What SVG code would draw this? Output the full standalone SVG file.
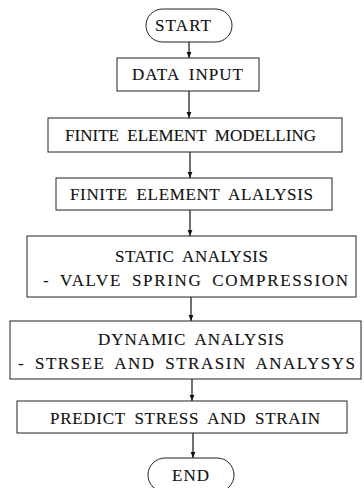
<svg xmlns="http://www.w3.org/2000/svg" width="364" height="488" viewBox="0 0 364 488">
  <defs>
    <marker id="arrow" viewBox="0 0 10 10" refX="10" refY="5" markerWidth="6" markerHeight="6" orient="auto" markerUnits="userSpaceOnUse">
      <path d="M0,1 L10,5 L0,9 Z" fill="#111"/>
    </marker>
  </defs>
  <style>
    .box { fill: #fff; stroke: #222; stroke-width: 1; }
    .lbl { font-family: "Liberation Serif", "Times New Roman", serif; font-size: 17px; fill: #111; stroke: #111; stroke-width: 0.12; word-spacing: 4px; }
    .edge { stroke: #111; stroke-width: 1.2; fill: none; marker-end: url(#arrow); }
  </style>
  <rect width="364" height="488" fill="#fff"/>

  <g id="connectors">
    <line class="edge" x1="189" y1="42" x2="189" y2="58"/>
    <line class="edge" x1="189" y1="91" x2="189" y2="118"/>
    <line class="edge" x1="190" y1="152" x2="190" y2="178"/>
    <line class="edge" x1="190" y1="210" x2="190" y2="236"/>
    <line class="edge" x1="191" y1="297" x2="191" y2="321"/>
    <line class="edge" x1="192" y1="379" x2="192" y2="401"/>
    <line class="edge" x1="193" y1="433" x2="193" y2="458"/>
  </g>

  <g id="start">
    <rect class="box" x="146" y="9" width="86" height="33" rx="16.5"/>
    <text class="lbl" x="155" y="31" textLength="56" lengthAdjust="spacing">START</text>
  </g>

  <g id="data-input">
    <rect class="box" x="117" y="58" width="142" height="33"/>
    <text class="lbl" x="132" y="80" textLength="111" lengthAdjust="spacing">DATA INPUT</text>
  </g>

  <g id="fe-modelling">
    <rect class="box" x="48" y="118" width="294" height="34"/>
    <text class="lbl" x="65" y="141" textLength="251" lengthAdjust="spacing">FINITE ELEMENT MODELLING</text>
  </g>

  <g id="fe-analysis">
    <rect class="box" x="56" y="178" width="276" height="32"/>
    <text class="lbl" x="70" y="200" textLength="243" lengthAdjust="spacing">FINITE ELEMENT ALALYSIS</text>
  </g>

  <g id="static-analysis">
    <rect class="box" x="27" y="236" width="329" height="61"/>
    <text class="lbl" x="115" y="262" textLength="153" lengthAdjust="spacing">STATIC ANALYSIS</text>
    <text class="lbl" x="43" y="286" textLength="305" lengthAdjust="spacing">- VALVE SPRING COMPRESSION</text>
  </g>

  <g id="dynamic-analysis">
    <rect class="box" x="10" y="321" width="351" height="58"/>
    <text class="lbl" x="98" y="345" textLength="186" lengthAdjust="spacing">DYNAMIC ANALYSIS</text>
    <text class="lbl" x="18" y="369" textLength="337" lengthAdjust="spacing">- STRSEE AND STRASIN ANALYSYS</text>
  </g>

  <g id="predict">
    <rect class="box" x="17" y="401" width="330" height="32"/>
    <text class="lbl" x="50" y="424" textLength="270" lengthAdjust="spacing">PREDICT STRESS AND STRAIN</text>
  </g>

  <g id="end">
    <rect class="box" x="148" y="458" width="86" height="34" rx="17"/>
    <text class="lbl" x="172" y="481" textLength="37" lengthAdjust="spacing">END</text>
  </g>
</svg>
